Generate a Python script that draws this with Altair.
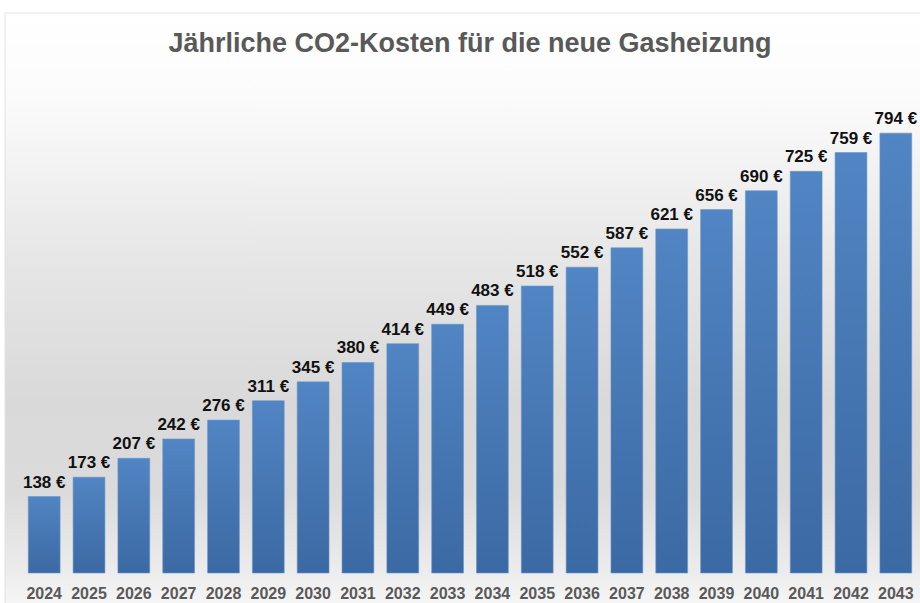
import altair as alt
import pandas as pd

title_text = "Jährliche CO2-Kosten für die neue Gasheizung"
years = [str(y) for y in range(2024, 2044)]
values = [138, 173, 207, 242, 276, 311, 345, 380, 414, 449,
          483, 518, 552, 587, 621, 656, 690, 725, 759, 794]
labels = [f"{v} €" for v in values]

df = pd.DataFrame({"year": years, "value": values, "label": labels})
bg_df = pd.DataFrame({"a": [0]})
title_df = pd.DataFrame({"t": [title_text]})

W, H = 896, 513

bg = alt.Chart(bg_df).mark_rect(
    stroke="#e2e2e2", strokeWidth=1,
    color={
        "gradient": "linear", "x1": 0, "y1": 0, "x2": 0, "y2": 1,
        "stops": [
            {"offset": 0.0, "color": "#ffffff"},
            {"offset": 0.14, "color": "#fbfbfb"},
            {"offset": 0.40, "color": "#e7e7e7"},
            {"offset": 0.65, "color": "#d9d9d9"},
            {"offset": 0.80, "color": "#dbdbdb"},
            {"offset": 0.93, "color": "#ececec"},
            {"offset": 1.0, "color": "#f8f8f8"},
        ],
    },
).encode(
    x=alt.value(-17), x2=alt.value(W + 10),
    y=alt.value(-47), y2=alt.value(H + 40),
)

title = alt.Chart(title_df).mark_text(
    fontSize=27, fontWeight="bold", color="#595959", font="Liberation Sans",
    align="center", baseline="alphabetic",
).encode(x=alt.value(W / 2), y=alt.value(-8), text="t:N")

base = alt.Chart(df).encode(
    x=alt.X("year:N", sort=years,
            scale=alt.Scale(paddingInner=0.29, paddingOuter=0.14),
            axis=alt.Axis(title=None, labelAngle=0, domain=False, ticks=False,
                          labelPadding=12, labelFontSize=16, labelFontWeight="bold",
                          labelColor="#595959", labelFont="Liberation Sans", grid=False,
                          zindex=2)),
    y=alt.Y("value:Q", scale=alt.Scale(domain=[0, 926], nice=False), axis=None),
)

bars = base.mark_bar(
    stroke="#6a95cc", strokeWidth=0.6,
    color={
        "gradient": "linear", "x1": 0, "y1": 0, "x2": 0, "y2": 1,
        "stops": [
            {"offset": 0.0, "color": "#5185c3"},
            {"offset": 1.0, "color": "#3b69a3"},
        ],
    },
)

text = base.mark_text(
    baseline="alphabetic", dy=-9, fontSize=17, fontWeight="bold",
    font="Liberation Sans", color="#111111",
).encode(text="label:N")

chart = alt.layer(bg, title, bars, text).properties(
    width=W, height=H,
    autosize=alt.AutoSizeParams(type="none"),
    padding={"left": 22, "top": 60, "right": 2, "bottom": 30},
    background="white",
).configure_view(stroke=None)

chart.save("out.html", embed_options={"renderer": "svg", "actions": False})
